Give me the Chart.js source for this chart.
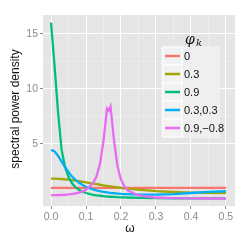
<!DOCTYPE html>
<html>
<head>
<meta charset="utf-8">
<script src="https://cdn.jsdelivr.net/npm/chart.js@4/dist/chart.umd.min.js"></script>
<style>
  html, body { margin: 0; padding: 0; background: #fff; }
  canvas { display: block; }
</style>
</head>
<body>
<canvas id="spectrum" width="250" height="245"></canvas>
<script>
// frequency grid (omega) shared by every curve
const omega = [0, 0.01, 0.02, 0.03, 0.04, 0.05, 0.06, 0.07, 0.08, 0.1, 0.12, 0.13, 0.14, 0.15,
  0.16, 0.165, 0.17, 0.18, 0.19, 0.2, 0.21, 0.22, 0.25, 0.3, 0.35, 0.4, 0.45, 0.5];

// spectral power density for each phi_k
const phi0 = [1, 1, 1, 1, 1, 1, 1, 1, 1, 1, 1, 1, 1, 1,
  1, 1, 1, 1, 1, 1, 1, 1, 1, 1, 1, 1, 1, 1];
const phi03 = [1.84, 1.84, 1.83, 1.81, 1.78, 1.75, 1.71, 1.66, 1.61, 1.5, 1.39, 1.34, 1.29, 1.23,
  1.18, 1.16, 1.14, 1.09, 1.05, 1.0, 0.97, 0.93, 0.84, 0.71, 0.63, 0.58, 0.55, 0.54];
const phi09 = [16, 12.1, 7.9, 4.5, 2.9, 2.0, 1.42, 1.06, 0.82, 0.54, 0.38, 0.33, 0.29, 0.25,
  0.22, 0.21, 0.2, 0.18, 0.16, 0.15, 0.14, 0.13, 0.1, 0.08, 0.065, 0.058, 0.054, 0.053];
const phi0303 = [4.45, 4.32, 3.93, 3.42, 2.9, 2.43, 2.03, 1.72, 1.46, 1.09, 0.86, 0.77, 0.7, 0.64,
  0.59, 0.57, 0.55, 0.52, 0.49, 0.46, 0.44, 0.43, 0.4, 0.39, 0.44, 0.54, 0.65, 0.7];
const phi09m08 = [0.34, 0.34, 0.34, 0.36, 0.38, 0.41, 0.45, 0.5, 0.58, 0.84, 1.43, 2.05, 3.18, 5.28,
  8.2, 8.0, 8.4, 5.34, 2.97, 1.75, 1.12, 0.76, 0.32, 0.13, 0.07, 0.05, 0.04, 0.04];

const seriesLabels = ["0", "0.3", "0.9", "0.3,0.3", "0.9,\u22120.8"];
const seriesColors = ["#F8766D", "#A3A500", "#00BF7D", "#00B0F6", "#E76BF3"];
const seriesValues = [phi0, phi03, phi09, phi0303, phi09m08];

const xTicks = [0, 0.1, 0.2, 0.3, 0.4, 0.5];
const xTickLabels = ["0.0", "0.1", "0.2", "0.3", "0.4", "0.5"];
const xMinor = [0.05, 0.15, 0.25, 0.35, 0.45];
const yTicks = [5, 10, 15];
const yTickLabels = ["5", "10", "15"];
const yMinor = [7.5, 12.5];

const FONT = "'Liberation Sans', Arial, sans-serif";
const TICK_GREY = "#8a8a8a";

function gridTicks(major, minor) {
  return major.concat(minor).sort((a, b) => a - b).map(v => ({ value: v }));
}

// grey ggplot-like panel behind the grid
const panelBackground = {
  id: "panelBackground",
  beforeDraw(chart) {
    const { ctx, chartArea: a } = chart;
    ctx.save();
    ctx.fillStyle = "#E5E5E5";
    ctx.fillRect(a.left, a.top, a.right - a.left, a.bottom - a.top);
    ctx.restore();
  }
};

// axis titles and the legend sitting inside the panel
const annotations = {
  id: "annotations",
  afterDraw(chart) {
    const ctx = chart.ctx;
    ctx.save();
    ctx.fillStyle = "#111";
    ctx.textAlign = "center";
    ctx.textBaseline = "middle";

    ctx.font = "12px " + FONT;
    ctx.fillText("\u03C9", 130, 229);

    ctx.save();
    ctx.translate(16, 109);
    ctx.rotate(-Math.PI / 2);
    ctx.fillText("spectral power density", 0, 0);
    ctx.restore();

    // legend box
    ctx.fillStyle = "rgba(240,240,240,0.9)";
    ctx.fillRect(161, 46, 59, 92);

    ctx.fillStyle = "#111";
    ctx.textAlign = "left";
    ctx.font = "italic 14px 'DejaVu Serif', serif";
    ctx.fillText("\u03C6", 185, 40);
    ctx.font = "italic 10px 'DejaVu Serif', serif";
    ctx.fillText("k", 196, 43);

    chart.data.datasets.forEach((ds, i) => {
      const cy = 56 + i * 18;
      ctx.fillStyle = "#F2F2F2";
      ctx.fillRect(163, cy - 9, 19, 18);
      ctx.strokeStyle = "#fff";
      ctx.lineWidth = 1;
      ctx.strokeRect(163, cy - 9, 19, 18);
      ctx.strokeStyle = ds.borderColor;
      ctx.lineWidth = 2.5;
      ctx.beginPath();
      ctx.moveTo(165, cy);
      ctx.lineTo(180, cy);
      ctx.stroke();
      ctx.fillStyle = "#111";
      ctx.font = "11px " + FONT;
      ctx.fillText(ds.label, 184, cy + 0.5);
    });
    ctx.restore();
  }
};

const datasets = seriesLabels.map((label, i) => ({
  label: label,
  data: omega.map((w, j) => ({ x: w, y: seriesValues[i][j] })),
  borderColor: seriesColors[i],
  backgroundColor: seriesColors[i],
  borderWidth: 2.3,
  pointRadius: 0,
  tension: 0,
  fill: false,
  order: seriesLabels.length - i
}));

new Chart(document.getElementById("spectrum"), {
  type: "line",
  data: { datasets: datasets },
  options: {
    responsive: false,
    animation: false,
    events: [],
    layout: { padding: { top: 15, right: 15, left: 0, bottom: 0 } },
    plugins: {
      legend: { display: false },
      tooltip: { enabled: false }
    },
    scales: {
      x: {
        type: "linear",
        min: -0.023,
        max: 0.526,
        afterBuildTicks: s => { s.ticks = gridTicks(xTicks, xMinor); },
        afterFit: s => { s.height = 39; },
        border: { display: false },
        grid: {
          color: c => xTicks.includes(c.tick.value) ? "#FFFFFF" : "#F2F2F2",
          lineWidth: c => xTicks.includes(c.tick.value) ? 1 : 0.5,
          tickColor: c => xTicks.includes(c.tick.value) ? TICK_GREY : "rgba(0,0,0,0)",
          tickLength: 3
        },
        ticks: {
          autoSkip: false,
          maxRotation: 0,
          padding: 2,
          color: TICK_GREY,
          font: { family: FONT, size: 10.5 },
          callback: v => {
            const k = xTicks.indexOf(v);
            return k >= 0 ? xTickLabels[k] : "";
          }
        }
      },
      y: {
        type: "linear",
        min: -0.64,
        max: 16.7,
        afterBuildTicks: s => { s.ticks = gridTicks(yTicks, yMinor); },
        afterFit: s => { s.width = 43; },
        border: { display: false },
        grid: {
          color: c => yTicks.includes(c.tick.value) ? "#FFFFFF" : "#F2F2F2",
          lineWidth: c => yTicks.includes(c.tick.value) ? 1 : 0.5,
          tickColor: c => yTicks.includes(c.tick.value) ? TICK_GREY : "rgba(0,0,0,0)",
          tickLength: 3
        },
        ticks: {
          autoSkip: false,
          padding: 2,
          color: TICK_GREY,
          font: { family: FONT, size: 10.5 },
          callback: v => {
            const k = yTicks.indexOf(v);
            return k >= 0 ? yTickLabels[k] : "";
          }
        }
      }
    }
  },
  plugins: [panelBackground, annotations]
});
</script>
</body>
</html>
